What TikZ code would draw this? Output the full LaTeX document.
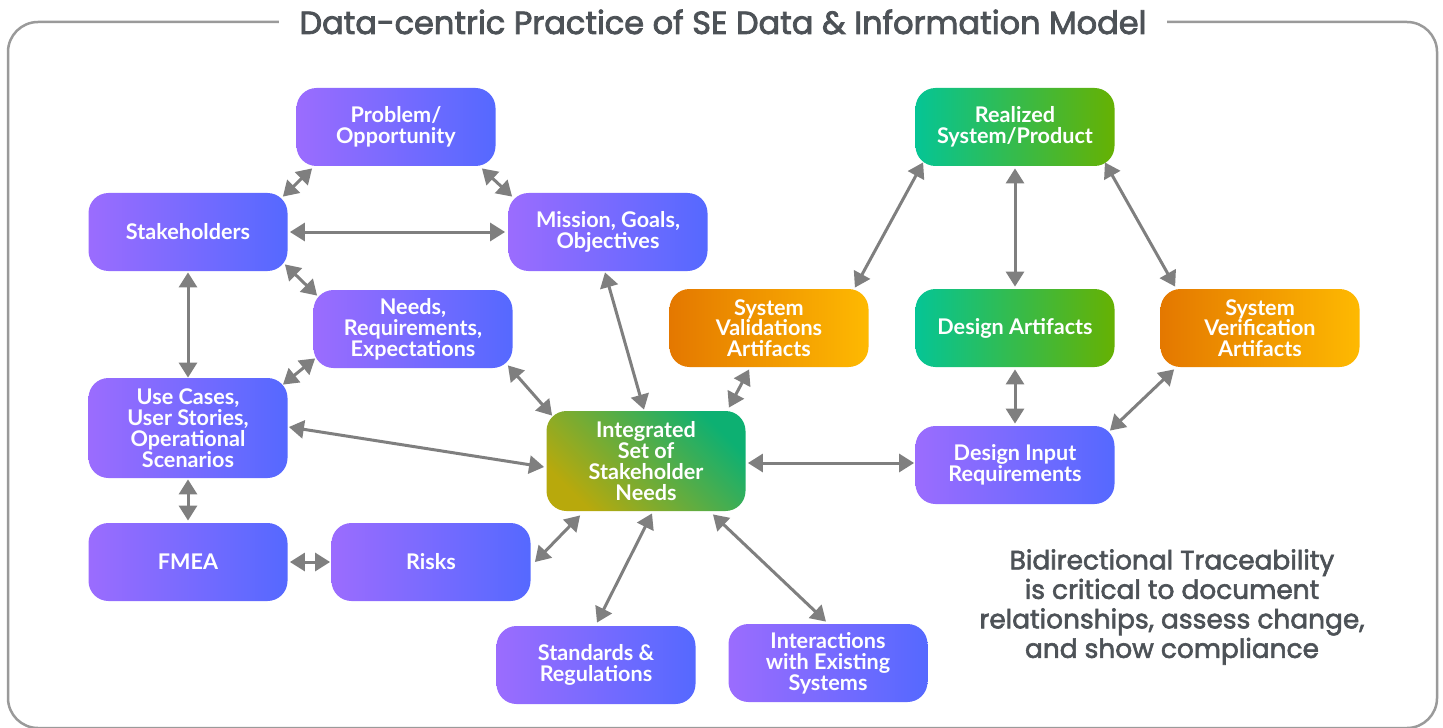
\documentclass[tikz,border=0pt]{standalone}
\usepackage{fontspec}
\setmainfont{Lato}
\newfontfamily\titlefont{Poppins}
\newcommand\heavier[2]{\special{pdf:literal direct 2 Tr #1 w}#2\special{pdf:literal direct 0 Tr}}
\usetikzlibrary{arrows.meta,calc}
\definecolor{pA}{HTML}{9B6CFE}
\definecolor{pB}{HTML}{5569FF}
\definecolor{gA}{HTML}{05C595}
\definecolor{gB}{HTML}{66B102}
\definecolor{oA}{HTML}{E47800}
\definecolor{oB}{HTML}{FEB901}
\definecolor{iA}{HTML}{B8A90C}
\definecolor{iB}{HTML}{0DB072}
\definecolor{arr}{HTML}{7F7F7F}
\definecolor{framec}{HTML}{9A9A9A}
\definecolor{txt}{HTML}{4D5257}
\tikzset{
 box/.style={rounded corners=10pt, minimum width=99.5pt, minimum height=39pt, text=white, align=center,
   font=\bfseries\fontsize{10.8}{10.4}\selectfont, inner sep=2pt},
 purp/.style={box, left color=pA, right color=pB},
 grn/.style={box, left color=gA, right color=gB},
 org/.style={box, left color=oA, right color=oB},
 integbox/.style={box, bottom color=iA, top color=iB, shading angle=-45},
 link/.style={draw=arr, line width=1.5pt, {Triangle[length=7.5pt,width=9pt]}-{Triangle[length=7.5pt,width=9pt]}},
}
\begin{document}
\begin{tikzpicture}[x=0.5pt,y=-0.5pt]
\useasboundingbox (0,0) rectangle (1443,727);
\draw[framec, line width=1.25pt, rounded corners=15pt] (8,22) rectangle (1437,728);
\node[anchor=base, fill=white, inner xsep=10pt, inner ysep=2pt, text=txt, font=\titlefont\fontsize{16}{19}\selectfont] (title) at (723,34) {\heavier{0.4}{Data-centric Practice of SE Data \& Information Model}};

\node[purp] (prob) at (396,127) {Problem/\\Opportunity};
\node[purp] (stake) at (188,232) {Stakeholders};
\node[purp] (miss) at (608,232) {Mission, Goals,\\Objectives};
\node[purp] (needs) at (413,329) {Needs,\\Requirements,\\Expectations};
\node[purp, minimum height=50pt] (use) at (188,428) {Use Cases,\\User Stories,\\Operational\\Scenarios};
\node[purp] (fmea) at (188,562) {FMEA};
\node[purp] (risk) at (431,562) {Risks};
\node[integbox, minimum height=50pt] (integ) at (646,461) {Integrated\\Set of\\Stakeholder\\Needs};
\node[purp] (std) at (596,665) {Standards \&\\Regulations};
\node[purp] (inter) at (828,663) {Interactions\\with Existing\\Systems};
\node[grn] (real) at (1015,127) {Realized\\System/Product};
\node[org] (val) at (769,328) {System\\Validations\\Artifacts};
\node[grn] (des) at (1015,328) {Design Artifacts};
\node[org] (ver) at (1260,328) {System\\Verification\\Artifacts};
\node[purp] (din) at (1015,465) {Design Input\\Requirements};

\node[align=center, text=txt, font=\titlefont\fontsize{13.2}{14.75}\selectfont] (desc) at (1172,607)
 {\heavier{0.3}{Bidirectional Traceability}\\\heavier{0.3}{is critical to document}\\\heavier{0.3}{relationships, assess change,}\\\heavier{0.3}{and show compliance}};

\draw[link] ($(prob.south west)+(16,2)$) -- ($(stake.north east)+(-5,4)$);
\draw[link] ($(prob.south east)+(-14,2)$) -- ($(miss.north west)+(4,4)$);
\draw[link] ($(stake.east)+(2,0)$) -- ($(miss.west)+(-3,0)$);
\draw[link] ($(stake.south east)+(-3,-7)$) -- ($(needs.north west)+(4,6)$);
\draw[link] ($(stake.south)+(0,1)$) -- (use.north);
\draw[link] ($(needs.south west)+(2,-10)$) -- ($(use.north east)+(-5,7)$);
\draw[link] ($(use.east)+(1,-1)$) -- ($(integ.west)+(-2,6)$);
\draw[link] ($(needs.south east)+(-5,-3)$) -- ($(integ.north west)+(6,5)$);
\draw[link] ($(miss.south)+(-3,1)$) -- ($(integ.north)+(-2,-1)$);
\draw[link] ($(use.south)+(0,1)$) -- ($(fmea.north)+(0,-2)$);
\draw[link] ($(fmea.east)+(2,0)$) -- ($(risk.west)+(-1,0)$);
\draw[link] ($(risk.east)+(4,0)$) -- ($(integ.south west)+(34,4)$);
\draw[link] ($(integ.south)+(6,2)$) -- ($(std.north)+(1,-3)$);
\draw[link] ($(integ.south east)+(-33,3)$) -- ($(inter.north)+(-2,-2)$);
\draw[link] ($(integ.north east)+(-17,-3)$) -- ($(val.south west)+(80,2)$);
\draw[link] ($(integ.east)+(2,2)$) -- ($(din.west)+(-1,-2)$);
\draw[link] ($(val.north east)+(-14,-1)$) -- ($(real.south west)+(8,-4)$);
\draw[link] ($(real.south)+(0,2)$) -- ($(des.north)+(0,-2)$);
\draw[link] ($(real.south east)+(-10,-4)$) -- ($(ver.north west)+(15,-2)$);
\draw[link] ($(des.south)+(0,2)$) -- ($(din.north)+(0,-2)$);
\draw[link] ($(din.north east)+(-5,5)$) -- ($(ver.south west)+(14,2)$);
\end{tikzpicture}
\end{document}
